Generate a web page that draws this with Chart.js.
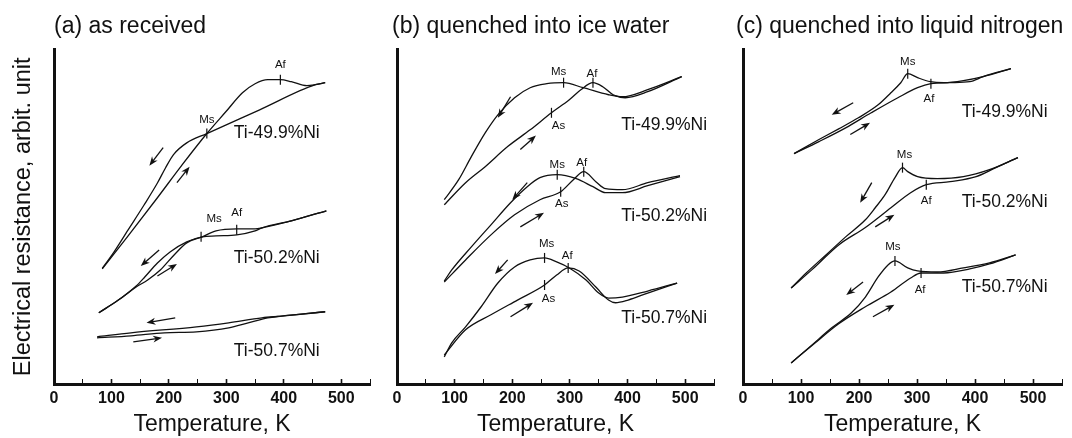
<!DOCTYPE html>
<html>
<head>
<meta charset="utf-8">
<title>Electrical resistance of Ti-Ni</title>
<script src="https://cdn.jsdelivr.net/npm/chart.js@4.4.1/dist/chart.umd.min.js"></script>
<style>
  html, body { margin: 0; padding: 0; background: #fff; }
  #wrap { position: relative; width: 1072px; height: 438px; overflow: hidden; }
  #wrap canvas { position: absolute; top: 0; }
</style>
</head>
<body>
<div id="wrap">
  <canvas id="chartA" width="380" height="438" style="left:0px"></canvas>
  <canvas id="chartB" width="344" height="438" style="left:380px"></canvas>
  <canvas id="chartC" width="348" height="438" style="left:724px"></canvas>
</div>
<script>
// temperature (K) / resistance (arbit. unit)

// (a) as received
const a49CoolT = [84, 101, 129, 157, 180, 194, 208, 231, 266, 358, 455, 472];
const a49CoolR = [34.6, 38.6, 46.1, 53.6, 60.1, 64.6, 68.6, 72.1, 74.9, 82.0, 89.5, 90.1];
const a49HeatT = [84, 129, 180, 222, 266, 299, 328, 350, 372, 394, 413, 440, 455, 472];
const a49HeatR = [34.4, 44.3, 55.7, 65.3, 74.9, 81.4, 87.1, 89.8, 91.0, 91.0, 90.4, 89.2, 89.5, 90.1];
const a50CoolT = [78, 112, 143, 158, 180, 202, 231, 258, 282, 318, 350, 362, 413, 474];
const a50CoolR = [21.3, 25.1, 29.3, 32.0, 36.2, 39.5, 42.5, 44.0, 44.3, 44.6, 45.8, 46.7, 48.8, 51.8];
const a50HeatT = [78, 112, 143, 163, 185, 209, 231, 258, 282, 318, 350, 362, 413, 474];
const a50HeatR = [21.3, 25.1, 29.0, 31.1, 34.1, 38.6, 42.2, 44.0, 45.8, 46.4, 46.4, 46.7, 48.8, 51.8];
const a51CoolT = [75, 134, 248, 304, 362, 396, 472];
const a51CoolR = [14.1, 15.3, 17.1, 18.3, 19.8, 20.3, 21.6];
const a51HeatT = [75, 134, 192, 248, 304, 338, 372, 396, 472];
const a51HeatR = [13.8, 14.4, 15.3, 15.6, 16.8, 18.3, 19.8, 20.3, 21.6];

// (b) quenched into ice water
const b49CoolT = [82, 107, 129, 153, 175, 204, 231, 260, 289, 323, 367, 391, 435, 494];
const b49CoolR = [55.1, 61.1, 68.0, 75.1, 80.5, 85.6, 88.6, 89.8, 90.1, 88.6, 86.5, 85.9, 88.0, 91.9];
const b49HeatT = [82, 119, 153, 192, 231, 268, 299, 319, 340, 357, 375, 396, 435, 494];
const b49HeatR = [53.6, 60.2, 65.0, 71.0, 76.0, 81.1, 85.0, 88.0, 90.1, 88.9, 86.5, 85.6, 87.4, 91.9];
const b50CoolT = [82, 95, 129, 163, 197, 226, 248, 278, 311, 340, 362, 391, 435, 491];
const b50CoolR = [30.8, 34.1, 41.0, 47.6, 54.2, 59.0, 61.7, 62.6, 61.4, 59.0, 57.2, 57.2, 59.3, 62.0];
const b50HeatT = [82, 119, 163, 204, 248, 284, 306, 324, 345, 362, 391, 435, 491];
const b50HeatR = [30.5, 37.1, 44.6, 50.6, 55.1, 57.5, 61.1, 63.5, 60.5, 58.4, 58.1, 60.2, 62.3];
const b51CoolT = [82, 95, 119, 146, 175, 204, 231, 256, 277, 299, 328, 350, 367, 391, 435, 486];
const b51CoolR = [8.1, 12.3, 17.1, 23.1, 30.2, 35.0, 37.1, 37.7, 36.5, 34.7, 31.1, 27.2, 25.7, 26.0, 27.8, 30.2];
const b51HeatT = [82, 119, 163, 209, 256, 277, 297, 316, 345, 367, 379, 401, 435, 486];
const b51HeatR = [8.7, 16.2, 20.7, 25.1, 29.6, 32.6, 34.7, 33.8, 29.0, 25.1, 24.3, 25.1, 27.2, 30.2];

// (c) quenched into liquid nitrogen
const c49CoolT = [88, 131, 165, 199, 233, 255, 272, 284, 301, 323, 346, 380, 414, 462];
const c49CoolR = [68.9, 73.1, 76.3, 79.6, 83.5, 87.1, 90.1, 92.8, 91.6, 90.4, 90.1, 90.7, 91.9, 94.3];
const c49HeatT = [88, 131, 177, 221, 267, 301, 324, 357, 391, 414, 462];
const c49HeatR = [68.9, 72.5, 76.6, 81.1, 85.6, 88.6, 89.8, 90.1, 90.4, 91.9, 94.3];
const c50CoolT = [83, 109, 143, 177, 211, 228, 245, 262, 275, 284, 301, 335, 380, 425, 474];
const c50CoolR = [28.7, 33.2, 38.6, 44.0, 49.1, 52.7, 56.6, 61.7, 64.7, 63.5, 62.0, 61.4, 62.0, 64.1, 67.7];
const c50HeatT = [83, 119, 165, 211, 255, 289, 316, 357, 402, 436, 474];
const c50HeatR = [28.7, 34.2, 41.6, 46.8, 52.7, 57.2, 59.6, 60.5, 62.0, 64.7, 67.7];
const c51CoolT = [83, 119, 153, 187, 211, 233, 250, 262, 284, 301, 335, 380, 425, 470];
const c51CoolR = [6.3, 11.7, 16.8, 21.3, 26.0, 32.0, 35.6, 36.8, 34.7, 33.8, 33.5, 34.7, 36.2, 38.6];
const c51HeatT = [83, 119, 165, 211, 255, 289, 307, 346, 391, 425, 470];
const c51HeatR = [6.3, 11.5, 18.0, 23.1, 27.5, 31.7, 33.2, 33.2, 34.4, 35.9, 38.6];

// transition points [T, R, name]
const aMarks = [[266, 74.9, 'Ms'], [394, 91.0, 'Af'], [256, 44.0, 'Ms'], [318, 46.1, 'Af']];
const bMarks = [[289, 90.1, 'Ms'], [340, 90.1, 'Af'], [268, 81.1, 'As'],
                [278, 62.6, 'Ms'], [324, 63.5, 'Af'], [284, 57.5, 'As'],
                [256, 37.7, 'Ms'], [297, 34.7, 'Af'], [256, 29.6, 'As']];
const cMarks = [[284, 92.8, 'Ms'], [324, 89.8, 'Af'], [275, 64.7, 'Ms'],
                [316, 59.6, 'Af'], [262, 36.8, 'Ms'], [307, 33.2, 'Af']];
// label offsets for those marks [dx, dy] in px
const aMarkPos = [[0, -14], [0, -15], [13, -18], [0, -17]];
const bMarkPos = [[-5, -11], [-1, -9], [7, 13], [0, -10], [-2, -9], [1, 12], [2, -14], [-1, -12], [4, 14]];
const cMarkPos = [[0, -12], [-2, 15], [2, -13], [0, 16], [-2, -14], [-1, 17]];

// heating / cooling arrows [T1, R1, T2, R2]
const aArrows = [[190, 70.7, 166, 65.3], [214, 60.2, 236, 65.0], [183, 40.1, 151, 35.3],
                 [180, 32.3, 214, 35.9], [211, 19.8, 161, 18.3], [138, 12.6, 188, 13.8]];
const bArrows = [[197, 85.9, 175, 79.6], [214, 70.1, 241, 74.3], [226, 60.2, 200, 55.1],
                 [214, 47.0, 255, 51.2], [192, 37.1, 170, 32.9], [197, 20.1, 236, 24.3]];
const cArrows = [[190, 84.1, 153, 80.5], [185, 74.6, 219, 78.1], [222, 60.2, 202, 54.2],
                 [228, 47.0, 261, 50.6], [207, 30.5, 178, 26.6], [224, 20.1, 261, 23.7]];

const alloys = ['Ti-49.9%Ni', 'Ti-50.2%Ni', 'Ti-50.7%Ni'];
const aAlloyAt = [[313, 74.9], [313, 37.7], [313, 9.9]];
const bAlloyAt = [[389, 77.5], [389, 50.3], [389, 19.8]];
const cAlloyAt = [[377, 81.4], [377, 54.5], [377, 29.0]];

const xTicks = [0, 100, 200, 300, 400, 500];

const FONT = '"Liberation Sans", Arial, Helvetica, sans-serif';
const INK = '#111';
Chart.defaults.font.family = FONT;
Chart.defaults.color = INK;

function curve(T, R) {
  return {
    data: T.map((t, i) => ({ x: t, y: R[i] })),
    borderColor: INK,
    borderWidth: 1.3,
    pointRadius: 0,
    fill: false,
    cubicInterpolationMode: 'monotone',
  };
}

// marks, arrows and alloy names, placed through the chart scales
const notesPlugin = {
  id: 'notes',
  afterDatasetsDraw(chart, args, opts) {
    const { ctx } = chart;
    const sx = chart.scales.x;
    const sy = chart.scales.y;
    ctx.save();
    ctx.strokeStyle = INK;
    ctx.fillStyle = INK;

    ctx.lineWidth = 1.2;
    ctx.font = '11.5px ' + FONT;
    ctx.textAlign = 'center';
    ctx.textBaseline = 'middle';
    opts.marks.forEach(([t, r, name], i) => {
      const px = sx.getPixelForValue(t);
      const py = sy.getPixelForValue(r);
      const [dx, dy] = opts.markPos[i];
      ctx.beginPath();
      ctx.moveTo(px, py - 5);
      ctx.lineTo(px, py + 5);
      ctx.stroke();
      ctx.fillText(name, px + dx, py + dy);
    });

    ctx.lineWidth = 1.3;
    opts.arrows.forEach(([t1, r1, t2, r2]) => {
      const x1 = sx.getPixelForValue(t1), y1 = sy.getPixelForValue(r1);
      const x2 = sx.getPixelForValue(t2), y2 = sy.getPixelForValue(r2);
      const ang = Math.atan2(y2 - y1, x2 - x1);
      const head = 9, half = 3.5;
      ctx.beginPath();
      ctx.moveTo(x1, y1);
      ctx.lineTo(x2 - Math.cos(ang) * head * 0.6, y2 - Math.sin(ang) * head * 0.6);
      ctx.stroke();
      ctx.beginPath();
      ctx.moveTo(x2, y2);
      ctx.lineTo(x2 - Math.cos(ang) * head + Math.sin(ang) * half, y2 - Math.sin(ang) * head - Math.cos(ang) * half);
      ctx.lineTo(x2 - Math.cos(ang) * head * 0.7, y2 - Math.sin(ang) * head * 0.7);
      ctx.lineTo(x2 - Math.cos(ang) * head - Math.sin(ang) * half, y2 - Math.sin(ang) * head + Math.cos(ang) * half);
      ctx.closePath();
      ctx.fill();
    });

    ctx.font = '17.5px ' + FONT;
    ctx.textAlign = 'left';
    opts.alloyAt.forEach(([t, r], i) => {
      ctx.fillText(alloys[i], sx.getPixelForValue(t), sy.getPixelForValue(r));
    });
    ctx.restore();
  },
};

function panel(id, title, curves, notes, box) {
  return new Chart(document.getElementById(id), {
    type: 'line',
    data: { datasets: curves },
    options: {
      responsive: false,
      animation: false,
      events: [],
      layout: { padding: box.padding },
      plugins: {
        legend: { display: false },
        tooltip: { enabled: false },
        title: {
          display: true,
          text: title,
          align: 'start',
          fullSize: box.fullTitle,
          color: INK,
          font: { size: 23, weight: 'normal' },
          padding: { top: 13, bottom: 9 },
        },
        notes: notes,
      },
      scales: {
        x: {
          type: 'linear',
          min: 0,
          max: 550,
          border: { color: INK, width: 3 },
          grid: {
            drawOnChartArea: false,
            drawTicks: true,
            tickLength: -5,
            tickColor: INK,
            tickWidth: (c) => (c.tick && c.tick.value % 100 === 0 ? 1.6 : 1),
          },
          ticks: {
            stepSize: 50,
            autoSkip: false,
            maxRotation: 0,
            padding: 10,
            color: INK,
            font: { size: 16, weight: 'bold' },
            callback: (v) => (xTicks.includes(v) ? String(v) : ''),
          },
          title: {
            display: true,
            text: 'Temperature, K',
            color: INK,
            font: { size: 23 },
            padding: { top: 0, bottom: 0 },
          },
          afterFit: (s) => { s.height = 54; },
        },
        y: {
          min: 0,
          max: 100,
          border: { color: INK, width: 3 },
          grid: { drawOnChartArea: false, drawTicks: false },
          ticks: { display: false },
          title: {
            display: box.yTitle,
            text: 'Electrical resistance, arbit. unit',
            color: INK,
            font: { size: 23.5 },
            padding: { top: 9, bottom: 0 },
          },
          afterFit: (s) => { s.width = box.yWidth; },
        },
      },
    },
    plugins: [notesPlugin],
  });
}

panel('chartA', '(a) as received', [
  curve(a49CoolT, a49CoolR), curve(a49HeatT, a49HeatR),
  curve(a50CoolT, a50CoolR), curve(a50HeatT, a50HeatR),
  curve(a51CoolT, a51CoolR), curve(a51HeatT, a51HeatR),
], { marks: aMarks, markPos: aMarkPos, arrows: aArrows, alloyAt: aAlloyAt },
{ padding: { left: 0, right: 2, top: 0, bottom: 0 }, fullTitle: false, yTitle: true, yWidth: 54 });

panel('chartB', '(b) quenched into ice water', [
  curve(b49CoolT, b49CoolR), curve(b49HeatT, b49HeatR),
  curve(b50CoolT, b50CoolR), curve(b50HeatT, b50HeatR),
  curve(b51CoolT, b51CoolR), curve(b51HeatT, b51HeatR),
], { marks: bMarks, markPos: bMarkPos, arrows: bArrows, alloyAt: bAlloyAt },
{ padding: { left: 12, right: 0, top: 0, bottom: 0 }, fullTitle: true, yTitle: false, yWidth: 5 });

panel('chartC', '(c) quenched into liquid nitrogen', [
  curve(c49CoolT, c49CoolR), curve(c49HeatT, c49HeatR),
  curve(c50CoolT, c50CoolR), curve(c50HeatT, c50HeatR),
  curve(c51CoolT, c51CoolR), curve(c51HeatT, c51HeatR),
], { marks: cMarks, markPos: cMarkPos, arrows: cArrows, alloyAt: cAlloyAt },
{ padding: { left: 12, right: 5, top: 0, bottom: 0 }, fullTitle: true, yTitle: false, yWidth: 7 });
</script>
</body>
</html>
